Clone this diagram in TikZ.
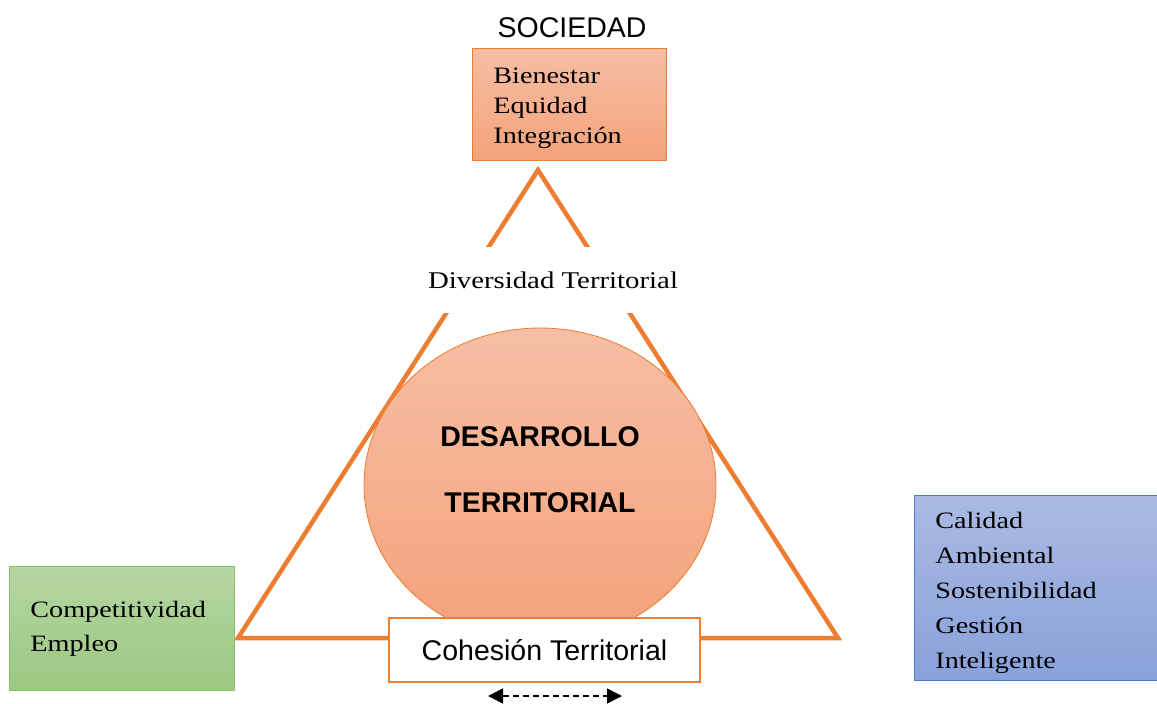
\documentclass[tikz,border=0pt]{standalone}
\usepackage{fontspec}
\setmainfont{Liberation Serif}[FakeStretch=1.2]
\setsansfont{Liberation Sans}
\usetikzlibrary{positioning, shapes.geometric, arrows.meta}

\definecolor{lineorange}{HTML}{ED7D31}
\definecolor{salmontop}{HTML}{F6BEA4}
\definecolor{salmonbot}{HTML}{F4A27A}
\definecolor{greentop}{HTML}{B4D6A2}
\definecolor{greenbot}{HTML}{9CC882}
\definecolor{greenline}{HTML}{86BF66}
\definecolor{bluetop}{HTML}{AABAE2}
\definecolor{bluebot}{HTML}{89A1DA}
\definecolor{blueline}{HTML}{4A7BCF}

\begin{document}
\begin{tikzpicture}[
  x=1pt, y=-1pt,
  box/.style={rectangle, anchor=north west, inner xsep=21pt, inner ysep=0pt, align=left, font=\fontsize{23.5}{30}\selectfont},
  salmonbox/.style={box, draw=lineorange, thick, top color=salmontop, bottom color=salmonbot,
    execute at begin node={\rule{0pt}{24pt}}},
  greenbox/.style={box, draw=greenline, thick, top color=greentop, bottom color=greenbot, font=\fontsize{23.5}{34}\selectfont},
  bluebox/.style={box, draw=blueline, thick, top color=bluetop, bottom color=bluebot, font=\fontsize{23.5}{35}\selectfont,
    execute at begin node={\rule{0pt}{26pt}}},
  side/.style={draw=lineorange, line width=4.5pt, line join=miter},
  sanslabel/.style={font=\sffamily\fontsize{28.5}{34}\selectfont},
  biglabel/.style={align=center, font=\sffamily\bfseries\fontsize{28.5}{66}\selectfont}
]
\useasboundingbox (0,0) rectangle (1157,704);

% Triangle corners
\coordinate (apex) at (538,170);
\coordinate (left) at (238,638);
\coordinate (right) at (838,638);
\draw[side] (apex) -- (left) -- (right) -- cycle;

% Society box at the top
\node[sanslabel] (soc) at (572,28) {SOCIEDAD};
\node[salmonbox, minimum height=112pt, text width=152pt] (bien) at (472,48)
  {Bienestar\\Equidad\\Integración};

% Labels over the triangle
\node[fill=white, minimum width=260pt, minimum height=66pt, font=\fontsize{24}{30}\selectfont] (div) at (553,280) {Diversidad Territorial};

\node[ellipse, draw=lineorange, thick, minimum width=352pt, minimum height=314pt,
  top color=salmontop, bottom color=salmonbot] (dev) at (540,485) {};
\node[biglabel] (devtext) at (540,470) {DESARROLLO\\TERRITORIAL};

\node[rectangle, draw=lineorange, line width=2pt, fill=white, minimum width=311pt, minimum height=64pt, font=\sffamily\fontsize{28.5}{32}\selectfont] (coh) at (544.5,650) {Cohesión Territorial};

% Side boxes
\node[greenbox, minimum height=124pt, text width=183pt] (comp) at (9,566)
  {Competitividad\\Empleo};
\node[bluebox, minimum height=185pt, text width=206pt] (amb) at (914,495)
  {Calidad\\Ambiental\\Sostenibilidad\\Gestión\\Inteligente};

% Double arrow under the cohesion box
\coordinate (arrL) at (488,696);
\coordinate (arrR) at (622,696);
\draw[line width=1.6pt, dash pattern=on 6pt off 4pt, {Triangle[length=15pt,width=15pt]}-{Triangle[length=15pt,width=15pt]}] (arrL) -- (arrR);

\end{tikzpicture}
\end{document}
